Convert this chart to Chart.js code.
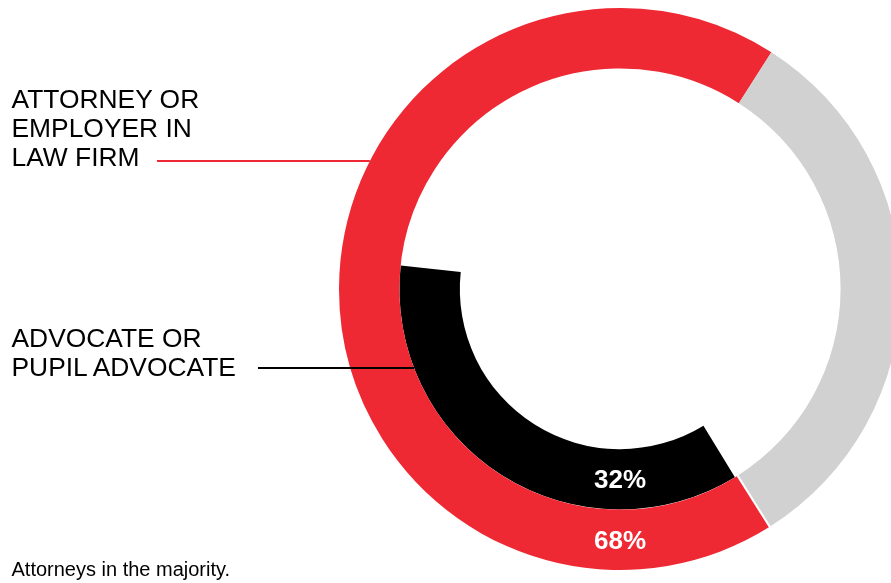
<!DOCTYPE html>
<html>
<head>
<meta charset="utf-8">
<script src="https://cdn.jsdelivr.net/npm/chart.js@4"></script>
<style>
    html, body { margin: 0; padding: 0; background: #fff; overflow: hidden; }
    body { width: 891px; height: 583px; position: relative; font-family: "Liberation Sans", Arial, sans-serif; }
    #wrap { position: absolute; left: 0; top: 0; width: 910px; height: 583px; }
    .lbl { position: absolute; left: 11.5px; font-size: 26.4px; color: #000; white-space: nowrap; }
    #lblAttorney { top: 85px; line-height: 29px; }
    #lblAdvocate { top: 324px; line-height: 28.5px; }
    #note { position: absolute; left: 11.5px; top: 558px; font-size: 20px; line-height: 23px; color: #000; white-space: nowrap; }
</style>
</head>
<body>
<div id="wrap"><canvas id="ringChart"></canvas></div>
<div class="lbl" id="lblAttorney">ATTORNEY OR<br>EMPLOYER IN<br>LAW FIRM</div>
<div class="lbl" id="lblAdvocate">ADVOCATE OR<br>PUPIL ADVOCATE</div>
<div id="note">Attorneys in the majority.</div>

<script>
// data
const outerLabels = ['Attorney or employer in law firm', 'Other']
const outerValues = [68, 32]
const innerLabels = ['Advocate or pupil advocate']
const innerValues = [32]

const red = '#ee2933'
const grey = '#d0d1d0'


// percentages at the bottom of each ring + leader lines from the text blocks
const ringText = {
    id: 'ringText',
    afterDatasetsDraw(chart) {
        const ctx = chart.ctx
        const outerArc = chart.getDatasetMeta(0).data[0]
        const innerArc = chart.getDatasetMeta(1).data[0]
        const cx = outerArc.x, cy = outerArc.y

        ctx.save()
        // thin white cut between grey and red at the bottom
        const a = outerArc.startAngle
        ctx.beginPath()
        ctx.strokeStyle = '#fff'
        ctx.lineWidth = 2
        ctx.moveTo(cx + Math.cos(a) * outerArc.innerRadius, cy + Math.sin(a) * outerArc.innerRadius)
        ctx.lineTo(cx + Math.cos(a) * (outerArc.outerRadius + 1), cy + Math.sin(a) * (outerArc.outerRadius + 1))
        ctx.stroke()

        // leader lines, they stop at the outer edge of their ring
        const lines = [
            { x0: 157, y: 161, r: outerArc.outerRadius, color: red },
            { x0: 258, y: 368, r: innerArc.outerRadius, color: '#000' }
        ]
        lines.forEach(l => {
            const dx = Math.sqrt(l.r * l.r - (l.y - cy) * (l.y - cy))
            ctx.beginPath()
            ctx.strokeStyle = l.color
            ctx.lineWidth = 2
            ctx.moveTo(l.x0, l.y)
            ctx.lineTo(cx - dx, l.y)
            ctx.stroke()
        })

        // value labels
        ctx.fillStyle = '#fff'
        ctx.font = 'bold 26px "Liberation Sans", Arial, sans-serif'
        ctx.textAlign = 'center'
        ctx.textBaseline = 'alphabetic'
        const arcs = [outerArc, innerArc]
        const vals = [outerValues[0], innerValues[0]]
        arcs.forEach((arc, i) => {
            const r = (arc.innerRadius + arc.outerRadius) / 2
            ctx.fillText(vals[i] + '%', cx, cy + r + 9)
        })
        ctx.restore()
    }
}


var ringChart = new Chart(
    document.getElementById('ringChart'),
    {
        type: 'doughnut',

        data: {
            labels: outerLabels,

            datasets: [{
                label: 'Profession',
                data: outerValues,
                backgroundColor: [red, grey],
                borderWidth: 0,
                rotation: 147.8
            }, {
                label: 'Advocates',
                data: innerValues,
                backgroundColor: ['#000000'],
                borderWidth: 0,
                rotation: 148.6,
                circumference: 127.5     // the black arc is drawn a bit longer than 32% in the original
            }]
        },

        options: {
            responsive: true,
            maintainAspectRatio: false,
            animation: false,
            cutout: '57%',
            layout: {
                padding: { left: 339, top: 8, right: 9, bottom: 13 }
            },
            plugins: {
                legend: {
                    display: false
                },
                title: {
                    display: false
                },
                tooltip: {
                    enabled: true,
                    callbacks: {
                        label: function (item) {
                            let label = item.datasetIndex === 1 ? innerLabels[0] : item.label
                            return label + ': ' + item.parsed + '%'
                        }
                    }
                }
            }
        },
        plugins: [ringText]
    }
);
</script>
</body>
</html>
